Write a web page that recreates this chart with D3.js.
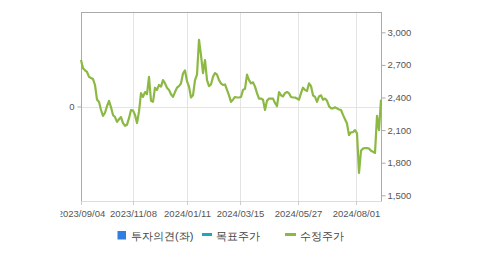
<!DOCTYPE html>
<html><head><meta charset="utf-8">
<script src="https://cdn.jsdelivr.net/npm/d3@7"></script>
<style>
html,body{margin:0;padding:0;background:#fff;}
svg{display:block;font-family:"Liberation Sans",Arial,sans-serif;}
</style></head>
<body>
<svg id="c" width="479" height="255"></svg>
<script>
// Adjusted price (수정주가), sampled at equal steps across the period
const prices = [2745,2670,2650,2635,2590,2580,2570,2515,2380,2360,
2285,2230,2260,2320,2370,2310,2240,2220,2175,2200,
2220,2165,2140,2150,2210,2285,2280,2240,2165,2270,
2440,2405,2450,2430,2590,2370,2360,2490,2470,2515,
2500,2560,2530,2490,2470,2430,2405,2450,2490,2505,
2530,2620,2650,2550,2500,2400,2420,2560,2610,2930,
2790,2625,2745,2560,2505,2520,2590,2625,2610,2560,
2530,2515,2520,2470,2420,2360,2380,2405,2400,2400,
2405,2470,2480,2610,2560,2530,2540,2500,2440,2390,
2390,2380,2285,2370,2390,2390,2390,2350,2320,2450,
2420,2410,2440,2450,2440,2405,2400,2400,2390,2380,
2440,2490,2470,2460,2530,2505,2420,2405,2360,2410,
2420,2380,2390,2370,2320,2300,2300,2310,2300,2290,
2285,2240,2200,2160,2055,2080,2080,2100,2070,1705,
1910,1930,1935,1935,1930,1910,1900,1890,2230,2100,2380];
const tickLabels = ["2023/09/04","2023/11/08","2024/01/11","2024/03/15","2024/05/27","2024/08/01"];
const tickIndex = [0, 26, 52.85, 79.65, 108.65, 137.5];
const rightTicks = [1500,1800,2100,2400,2700,3000];
const leftTicks = [0];
const legendItems = ["투자의견(좌)","목표주가","수정주가"];

const L=81, R=381, T=12, B=201;
const svg = d3.select("#c");
const x = d3.scaleLinear().domain([0, prices.length-1]).range([L, R]);
const y = d3.scaleLinear().domain([1500, 3000]).range([195.3, 32.3]);
const yl = d3.scaleLinear().domain([-1, 1]).range([201, 12]);

// vertical grid
svg.append("g").selectAll("line").data(tickIndex).join("line")
  .attr("x1", d=>Math.round(x(d))+0.5).attr("x2", d=>Math.round(x(d))+0.5)
  .attr("y1", T).attr("y2", B+4).attr("stroke", "#e4e4e4");
// horizontal grid at 0
svg.append("line").attr("x1", L).attr("x2", R).attr("y1", Math.round(yl(0))+0.5).attr("y2", Math.round(yl(0))+0.5)
  .attr("stroke", "#e4e4e4");

// frame
svg.append("line").attr("x1", L).attr("x2", R).attr("y1", T+0.5).attr("y2", T+0.5).attr("stroke", "#aaa");
svg.append("line").attr("x1", L).attr("x2", R).attr("y1", B+0.5).attr("y2", B+0.5).attr("stroke", "#ddd");

// left axis
const la = svg.append("g").attr("transform", `translate(${L+0.5},0)`)
  .call(d3.axisLeft(yl).tickValues(leftTicks).tickFormat(d3.format("d")).tickSize(4).tickPadding(3));
la.select(".domain").attr("stroke", "#aaa").attr("d", `M0,${T}V${B+4}`);
la.selectAll(".tick line").attr("stroke", "#aaa");
la.selectAll("text").attr("fill", "#555").style("font-size", "9.5px");

// right axis
const ra = svg.append("g").attr("transform", `translate(${R+0.5},0)`)
  .call(d3.axisRight(y).tickValues(rightTicks).tickFormat(d3.format(",")).tickSize(4).tickPadding(2));
ra.select(".domain").attr("stroke", "#aaa").attr("d", `M0,${T}V${B+0.5}`);
ra.selectAll(".tick line").attr("stroke", "#aaa");
ra.selectAll("text").attr("fill", "#555").style("font-size", "9.5px");

// bottom axis
svg.append("clipPath").attr("id", "xclip").append("rect").attr("x", 60.5).attr("y", 0).attr("width", 420).attr("height", 255);
const xa = svg.append("g").attr("clip-path", "url(#xclip)").append("g").attr("transform", `translate(0,${B})`)
  .call(d3.axisBottom(x).tickValues(tickIndex).tickFormat((d,i)=>tickLabels[i]).tickSize(4).tickPadding(5));
xa.select(".domain").remove();
xa.selectAll(".tick").attr("transform", d=>`translate(${Math.round(x(d))+0.5},0)`);
xa.selectAll(".tick line").attr("stroke", "#ccc");
xa.selectAll("text").attr("fill", "#555").style("font-size", "9.5px");

// price line
svg.append("path").datum(prices)
  .attr("d", d3.line().x((d,i)=>x(i)).y(d=>y(d)))
  .attr("fill", "none").attr("stroke", "#8cb844").attr("stroke-width", 2.2).attr("stroke-linejoin", "round");

// legend
const lg = svg.append("g").style("font-size", "11px").attr("fill", "#444");
lg.append("rect").attr("x", 117.5).attr("y", 231).attr("width", 8.5).attr("height", 8.5).attr("fill", "#2f7ee0");
lg.append("text").attr("x", 131).attr("y", 239.5).text(legendItems[0]);
lg.append("line").attr("x1", 202).attr("x2", 212).attr("y1", 234.5).attr("y2", 234.5).attr("stroke", "#1ea7b4").attr("stroke-width", 3);
lg.append("text").attr("x", 215.5).attr("y", 239.5).text(legendItems[1]);
lg.append("line").attr("x1", 285).attr("x2", 296).attr("y1", 234.5).attr("y2", 234.5).attr("stroke", "#8cb844").attr("stroke-width", 3);
lg.append("text").attr("x", 299.5).attr("y", 239.5).text(legendItems[2]);
</script>
</body></html>
